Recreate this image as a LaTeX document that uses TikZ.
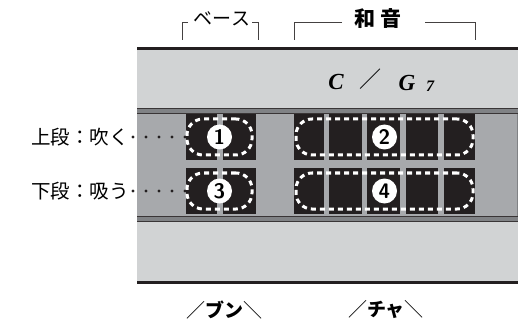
\documentclass[tikz,border=0pt]{standalone}
\usepackage{fontspec}
\newfontfamily\jp{Noto Sans CJK JP}
\newfontfamily\chordfont{Liberation Serif}
\definecolor{paper}{HTML}{D1D3D4}
\definecolor{field}{HTML}{A7A9AC}
\definecolor{rail}{HTML}{808285}
\definecolor{ink}{HTML}{231F20}

\begin{document}
\begin{tikzpicture}
	[x=1pt, y=-1pt,
	every node/.style={inner sep=0pt},
	cell/.style={fill=ink},
	oval/.style={draw=white,line width=3pt,dash pattern=on 5pt off 4pt,rounded corners=16pt,minimum height=36pt},
	num/.style={circle,fill=white,minimum size=25pt,font=\sffamily\bfseries\fontsize{21}{21}\selectfont},
	jtext/.style={font=\jp\fontsize{19.5}{19.5}\selectfont},
	dots/.style={draw=ink,line width=3.2pt,line cap=round,dash pattern=on 0pt off 13pt,shorten <=4pt},
	brk/.style={draw=ink!85,line width=0.9pt}]
	\useasboundingbox (0,0) rectangle (532,323);
	% the body
	\fill[paper] (137,47) rectangle (518,283);
	\draw[ink,line width=3pt] (137,48.5) -- (518,48.5);
	\draw[ink,line width=3pt] (137,282) -- (518,282);
	\fill[field] (137,108) rectangle (518,222);
	\fill[rail] (137,108) rectangle (518,114);
	\fill[rail] (137,216) rectangle (518,222);
	\draw[ink!90,line width=1pt] (137,108.5) -- (518,108.5) (137,113.5) -- (518,113.5);
	\draw[ink!90,line width=1pt] (137,216.5) -- (518,216.5) (137,221.5) -- (518,221.5);
	\draw[rail,line width=1pt] (517,114) -- (517,216);
	% cells
	\foreach \ya/\yb in {114/160,168/214} {
		\foreach \xa/\xb in {186/217,223/256,294/324,329/362,367/400,406/438,444/475}
			\fill[cell] (\xa,\ya) rectangle (\xb,\yb);
	}
	% holes
	\node (oval1) [oval,minimum width=65pt] at (219.5,137) {};
	\node (oval3) [oval,minimum width=65pt] at (219.5,191) {};
	\node (oval2) [oval,minimum width=177pt] at (384.5,137) {};
	\node (oval4) [oval,minimum width=177pt] at (384.5,191) {};
	\node (n1) [num] at (oval1.center) {1};
	\node (n3) [num] at (oval3.center) {3};
	\node (n2) [num] at (oval2.center) {2};
	\node (n4) [num] at (oval4.center) {4};
	% chord name
	\node (chordC) [font=\chordfont\bfseries\itshape\fontsize{23}{23}\selectfont] at (336,82) {C};
	\node (chordSlash) [font=\jp\fontsize{22}{22}\selectfont] at (370,79) {／};
	\node (chordG) [font=\chordfont\bfseries\itshape\fontsize{23}{23}\selectfont] at (407,83) {G};
	\node (chordSeven) [font=\chordfont\bfseries\itshape\fontsize{16}{16}\selectfont] at (430,86) {7};
	% breath labels
	\node (upper) [jtext,anchor=east] at (129,137) {上段：吹く};
	\node (lower) [jtext,anchor=east] at (129,191) {下段：吸う};
	\draw[dots] (upper.east) -- (upper.east -| oval1.west);
	\draw[dots] (lower.east) -- (lower.east -| oval3.west);
	% top labels
	\node (bass) [jtext,font=\jp\fontsize{19}{19}\selectfont] at (222,19) {ベース};
	\node (harm) [jtext,font=\jp\bfseries\fontsize{21}{21}\selectfont] at (378,19) {和\hspace{6pt}音};
	\draw[brk] (188,22) -- (182,22) -- (182,40);
	\draw[brk] (252,22) -- (258,22) -- (258,40);
	\draw[brk] (342,22) -- (294,22) -- (294,40);
	\draw[brk] (425,22) -- (475,22) -- (475,40);
	% bottom labels
	\node (bun) [font=\jp\bfseries\fontsize{19}{19}\selectfont] at (224,310) {{\mdseries ／}ブン{\mdseries ＼}};
	\node (cha) [font=\jp\bfseries\fontsize{19}{19}\selectfont] at (386,310) {{\mdseries ／}チャ{\mdseries ＼}};
\end{tikzpicture}
\end{document}
